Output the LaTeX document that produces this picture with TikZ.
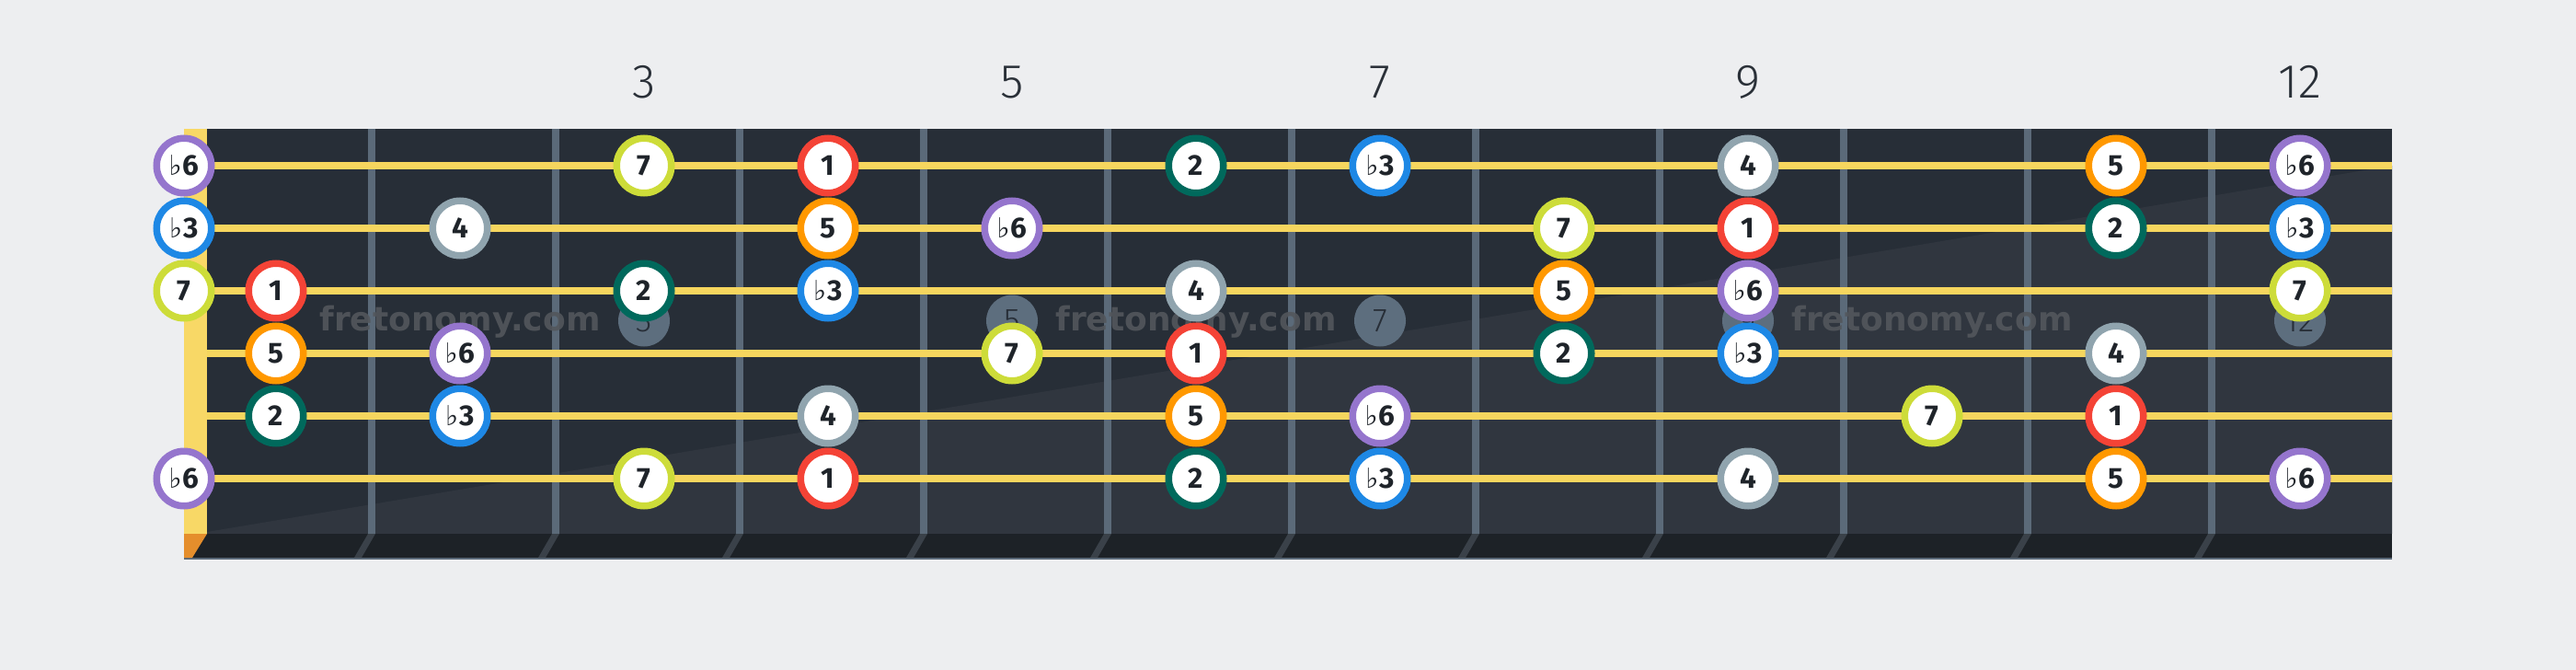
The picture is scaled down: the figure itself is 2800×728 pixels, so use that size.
\documentclass[tikz,border=0pt]{standalone}
\usepackage{fontspec}
\setmainfont{Fira Sans}
\newfontfamily\lightf{Fira Sans}[UprightFont={* Light}]
\newfontfamily\symf{DejaVu Sans}
\newfontfamily\wmf{DejaVu Sans}[UprightFont={* Bold}]
\definecolor{bg}{HTML}{EDEEF0}
\definecolor{board}{HTML}{272E37}
\definecolor{boardlight}{HTML}{30363F}
\definecolor{strip}{HTML}{1D2227}
\definecolor{stripline}{HTML}{3A4149}
\definecolor{fretc}{HTML}{5B6A79}
\definecolor{strc}{HTML}{F6D65E}
\definecolor{nutc}{HTML}{F8D866}
\definecolor{nutdark}{HTML}{E58E2C}
\definecolor{inlayc}{HTML}{5D6E7E}
\definecolor{ink}{HTML}{1F242A}
\definecolor{numc}{HTML}{2A3038}
\definecolor{wmc}{HTML}{53575C}
\definecolor{cOne}{HTML}{F44336}
\definecolor{cTwo}{HTML}{00695C}
\definecolor{cThree}{HTML}{1E88E5}
\definecolor{cFour}{HTML}{90A4AE}
\definecolor{cFive}{HTML}{FF9800}
\definecolor{cSix}{HTML}{9575CD}
\definecolor{cSeven}{HTML}{CDDC39}
\newcommand\flt{{\symf\fontsize{30}{30}\selectfont\raisebox{0.5pt}{♭}}\kern1pt}
\tikzset{
  note/.style={circle, fill=white, line width=7.5pt, minimum size=59.5pt, inner sep=0pt,
    text=ink, font=\fontsize{31.5}{31.5}\selectfont\bfseries},
  deg-1/.style={note, draw=cOne, node contents={1}},
  deg-2/.style={note, draw=cTwo, node contents={2}},
  deg-b3/.style={note, draw=cThree, node contents={\flt3}},
  deg-4/.style={note, draw=cFour, node contents={4}},
  deg-5/.style={note, draw=cFive, node contents={5}},
  deg-b6/.style={note, draw=cSix, node contents={\flt6}},
  deg-7/.style={note, draw=cSeven, node contents={7}},
  inlay/.style={circle, fill=inlayc, minimum size=56pt, inner sep=0pt, text=board,
    font=\lightf\fontsize{36}{36}\selectfont},
  fretnum/.style={text=numc, font=\lightf\fontsize{52}{52}\selectfont, inner sep=0pt},
  watermark/.style={text=wmc, text opacity=0.9, font=\wmf\fontsize{36}{36}\selectfont, inner sep=0pt}
}
\begin{document}
\begin{tikzpicture}[x=1pt, y=-1pt]
\useasboundingbox (0,0) rectangle (2800,728);
\fill[bg] (0,0) rectangle (2800,728);
% board
\fill[board] (225,140) rectangle (2600,580);
\fill[boardlight] (225,578) -- (2600,180) -- (2600,580) -- (225,580) -- cycle;
\fill[strip] (200,580) rectangle (2600,608);
\fill[fretc] (200,606) rectangle (2600,608);
\fill[nutdark] (200,580) -- (225,580) -- (209,606) -- (200,606) -- cycle;
\foreach \k in {1,...,11}{
  \fill[stripline] ({200+200*\k},580) -- ({208+200*\k},580) -- ({193+200*\k},606) -- ({185+200*\k},606) -- cycle;
  \fill[fretc] ({200+200*\k},140) rectangle ({208+200*\k},580);
}
\fill[nutc] (200,140) rectangle (225,580);
\foreach \s in {0,...,5}{
  \fill[strc] (225,{176+68*\s}) rectangle (2600,{184+68*\s});
}
% inlays
\foreach \f in {3,5,7,9,12}{
  \node[inlay] (inlay-\f) at ({100+200*\f},348.5) {\f};
  \node[fretnum] (num-\f) at ({100+200*\f},89) {\f};
}
% watermarks
\foreach \x [count=\i] in {500,1300,2100}{
  \node[watermark] (wm-\i) at (\x,350) {fretonomy.com};
}
% notes
\foreach \s/\f/\d in {
  1/0/b6, 1/3/7, 1/4/1, 1/6/2, 1/7/b3, 1/9/4, 1/11/5, 1/12/b6,
  2/0/b3, 2/2/4, 2/4/5, 2/5/b6, 2/8/7, 2/9/1, 2/11/2, 2/12/b3,
  3/0/7, 3/1/1, 3/3/2, 3/4/b3, 3/6/4, 3/8/5, 3/9/b6, 3/12/7,
  4/1/5, 4/2/b6, 4/5/7, 4/6/1, 4/8/2, 4/9/b3, 4/11/4,
  5/1/2, 5/2/b3, 5/4/4, 5/6/5, 5/7/b6, 5/10/7, 5/11/1,
  6/0/b6, 6/3/7, 6/4/1, 6/6/2, 6/7/b3, 6/9/4, 6/11/5, 6/12/b6}{
  \pgfmathsetmacro\xx{ifthenelse(\f==0,200,100+200*\f)}
  \pgfmathsetmacro\yy{180+68*(\s-1)}
  \node[deg-\d, name=n-\s-\f, at={(\xx,\yy)}];
}
\end{tikzpicture}
\end{document}
